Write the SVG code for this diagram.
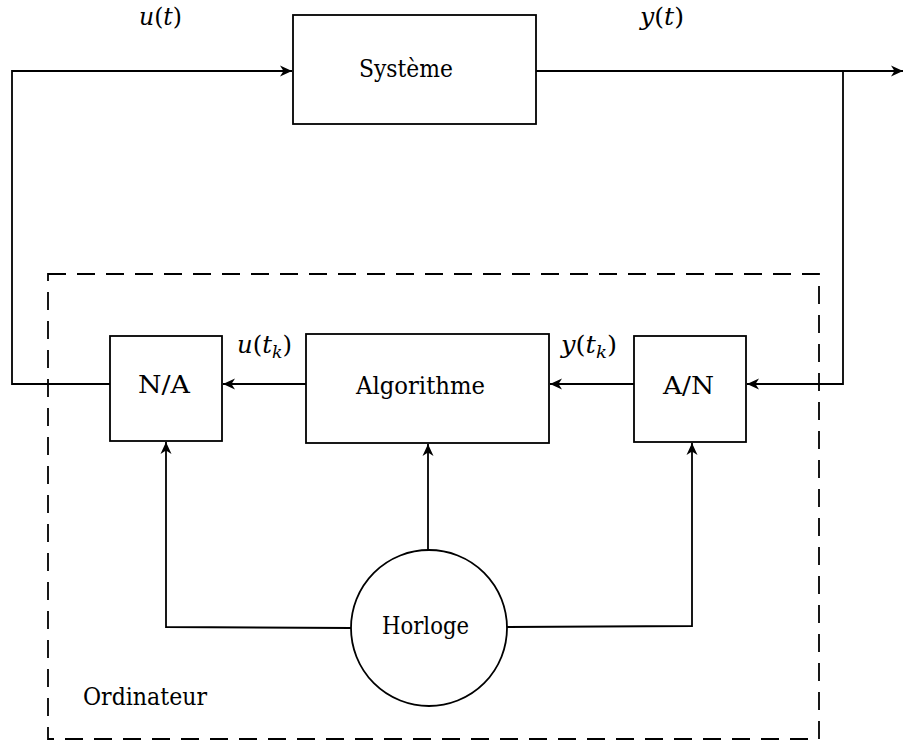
<svg xmlns="http://www.w3.org/2000/svg" width="904" height="743" viewBox="0 0 904 743">
<style>
.box{fill:#fff;stroke:#000;stroke-width:1.8}
.ln{fill:none;stroke:#000;stroke-width:1.8}
.dash{fill:none;stroke:#000;stroke-width:1.8;stroke-dasharray:18 11}
.t{font-family:"DejaVu Serif",serif;font-size:24px;fill:#000}
.m{font-family:"DejaVu Serif",serif;font-size:24px;fill:#000}
.i{font-style:italic}
</style>
<defs>
<marker id="arr" viewBox="-13 -7 14 14" markerWidth="14" markerHeight="14" refX="0" refY="0" orient="auto" markerUnits="userSpaceOnUse">
<path d="M0,0 L-12,-5.5 L-8.5,0 L-12,5.5 Z" fill="#000"/>
</marker>
</defs>
<g id="ordinateur">
<rect x="48" y="274" width="771" height="465" class="dash"/>
<text x="83" y="705" class="t" textLength="124" lengthAdjust="spacingAndGlyphs">Ordinateur</text>
</g>
<g id="connectors">
<polyline class="ln" points="110,384 12,384 12,71 292,71" marker-end="url(#arr)"/>
<polyline class="ln" points="536,71 903,71" marker-end="url(#arr)"/>
<polyline class="ln" points="843,71 843,384 747,384" marker-end="url(#arr)"/>
<polyline class="ln" points="634,384 550,384" marker-end="url(#arr)"/>
<polyline class="ln" points="306,384 223,384" marker-end="url(#arr)"/>
<polyline class="ln" points="351,628 166,627 166,442" marker-end="url(#arr)"/>
<polyline class="ln" points="428,550 428,444" marker-end="url(#arr)"/>
<polyline class="ln" points="507,627 692,626 692,443" marker-end="url(#arr)"/>
<text x="139" y="25" class="m" textLength="43" lengthAdjust="spacingAndGlyphs"><tspan class="i">u</tspan>(<tspan class="i">t</tspan>)</text>
<text x="640" y="25" class="m" textLength="44" lengthAdjust="spacingAndGlyphs"><tspan class="i">y</tspan>(<tspan class="i">t</tspan>)</text>
<text x="237" y="353" class="m" textLength="55" lengthAdjust="spacingAndGlyphs"><tspan class="i">u</tspan>(<tspan class="i">t</tspan><tspan class="i" font-size="17" dy="5">k</tspan><tspan dy="-5">)</tspan></text>
<text x="561" y="353" class="m" textLength="56" lengthAdjust="spacingAndGlyphs"><tspan class="i">y</tspan>(<tspan class="i">t</tspan><tspan class="i" font-size="17" dy="5">k</tspan><tspan dy="-5">)</tspan></text>
</g>
<g id="systeme">
<rect x="293" y="15" width="243" height="109" class="box"/>
<text x="359" y="77" class="t" textLength="94" lengthAdjust="spacingAndGlyphs">Système</text>
</g>
<g id="na">
<rect x="110" y="336" width="112" height="105" class="box"/>
<text x="138" y="393" class="t" textLength="52" lengthAdjust="spacingAndGlyphs">N/A</text>
</g>
<g id="algorithme">
<rect x="306" y="334" width="243" height="109" class="box"/>
<text x="356" y="394" class="t" textLength="129" lengthAdjust="spacingAndGlyphs">Algorithme</text>
</g>
<g id="an">
<rect x="634" y="336" width="112" height="106" class="box"/>
<text x="663" y="394" class="t" textLength="51" lengthAdjust="spacingAndGlyphs">A/N</text>
</g>
<g id="horloge">
<circle cx="429" cy="628" r="78" class="box"/>
<text x="382" y="634" class="t" textLength="87" lengthAdjust="spacingAndGlyphs">Horloge</text>
</g>
</svg>
